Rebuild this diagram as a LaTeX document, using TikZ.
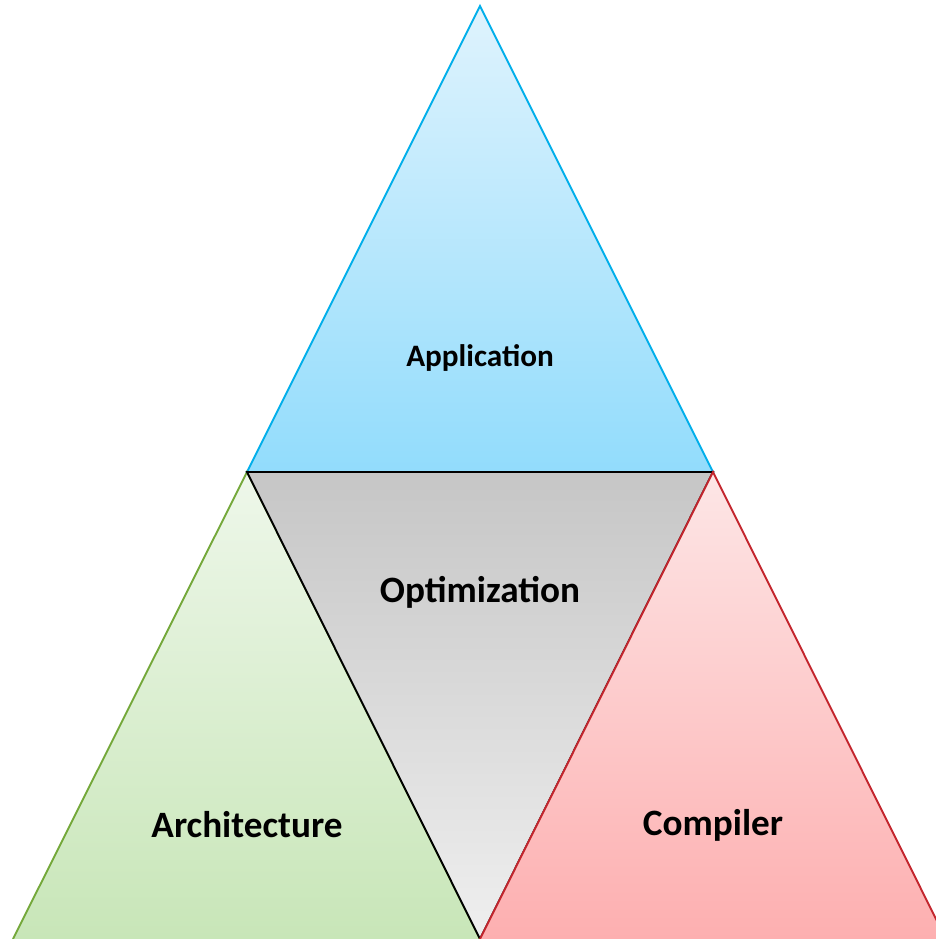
\documentclass[tikz,border=0pt]{standalone}
\usepackage{fontspec}
\setmainfont{Carlito}
\definecolor{blueTop}{HTML}{DFF3FD}
\definecolor{blueBot}{HTML}{92DCFC}
\definecolor{blueLine}{HTML}{00AEEA}
\definecolor{grayTop}{HTML}{C6C6C6}
\definecolor{grayBot}{HTML}{EFEFEF}
\definecolor{greenTop}{HTML}{EEF7EA}
\definecolor{greenBot}{HTML}{C8E6B8}
\definecolor{greenLine}{HTML}{74A83A}
\definecolor{redTop}{HTML}{FDE6E6}
\definecolor{redBot}{HTML}{FDAFB0}
\definecolor{redLine}{HTML}{C3252D}
\tikzset{
  tri/.style={line width=1.9pt, line join=miter},
  lbl/.style={font=\bfseries\fontsize{37.2}{40}\selectfont, text=black},
}
\begin{document}
\begin{tikzpicture}[x=1pt,y=-1pt]
\useasboundingbox (0,0) rectangle (935,939);
% corner points of the big triangle and its midpoints
\coordinate (apex) at (480,6);
\coordinate (ml) at (247,472);
\coordinate (mr) at (713,472);
\coordinate (bl) at (13,939);
\coordinate (bm) at (480,939);
\coordinate (br) at (946,939);
% top triangle
\draw[tri, draw=blueLine, top color=blueTop, bottom color=blueBot] (apex) -- (ml) -- (mr) -- cycle;
% lower left triangle (base edge runs along the page border, left unstroked)
\shade[top color=greenTop, bottom color=greenBot] (ml) -- (bl) -- (bm) -- cycle;
\draw[tri, draw=greenLine] (bl) -- (ml) -- (bm);
% central inverted triangle
\draw[tri, draw=black, top color=grayTop, bottom color=grayBot] (ml) -- (mr) -- (bm) -- cycle;
% lower right triangle
\shade[top color=redTop, bottom color=redBot] (mr) -- (bm) -- (br) -- cycle;
\draw[tri, draw=redLine] (bm) -- (mr) -- (br);
% labels
\node[lbl, font=\bfseries\fontsize{31.2}{34}\selectfont] (app) at (480,358) {Application};
\node[lbl] (opt) at (480,592) {Optimization};
\node[lbl] (arch) at (247,825) {Architecture};
\node[lbl] (comp) at (713,825) {Compiler};
\end{tikzpicture}
\end{document}
